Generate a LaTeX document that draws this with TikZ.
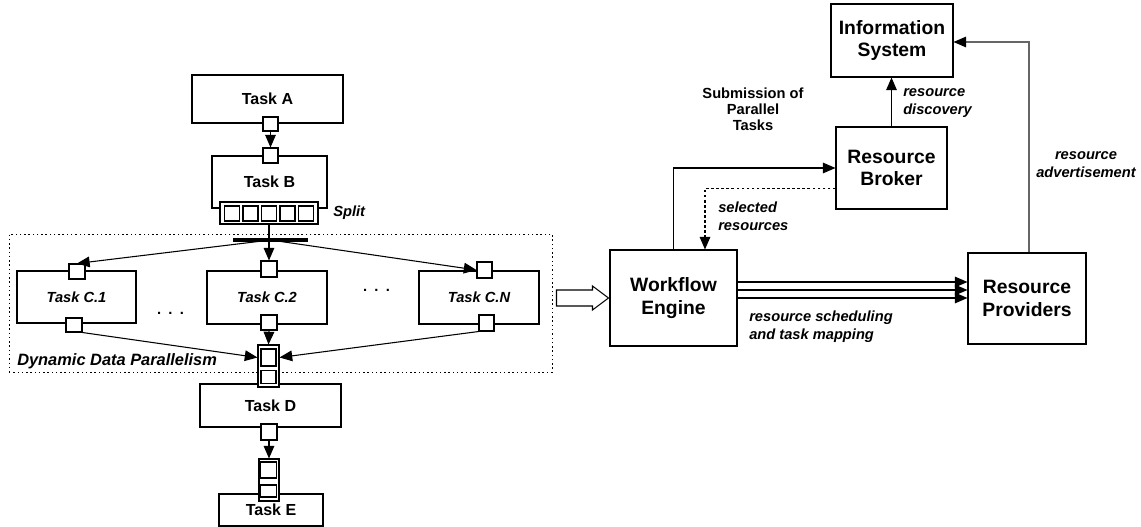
\documentclass[tikz,border=0pt]{standalone}
\usepackage{fontspec}
\setmainfont{Liberation Sans}
\usetikzlibrary{arrows.meta,calc}
\begin{document}
\begin{tikzpicture}[x=0.75pt,y=-0.75pt,
  ln/.style={line width=0.8pt},
  sz/.style 2 args={minimum width=#1*0.75pt, minimum height=#2*0.75pt},
  box/.style={draw, ln, inner sep=0pt, fill=white},
  arr/.style={ln, -{Triangle[length=9.5pt,width=8pt,color=black]}},
  bigtxt/.style={font=\fontsize{14.5}{16.9}\selectfont\bfseries, align=center},
  tasktxt/.style={font=\fontsize{12}{14}\selectfont\bfseries},
  ctxt/.style={font=\fontsize{11}{13}\selectfont\bfseries\itshape},
  lbl/.style={font=\fontsize{11}{13.5}\selectfont\bfseries\itshape, inner sep=0pt},
  dots/.style={font=\fontsize{11}{13}\selectfont\bfseries, inner sep=0pt},
  dotted frame/.style={draw, line width=0.7pt, dash pattern=on 1.1pt off 2.1pt, inner sep=0pt},
]
\useasboundingbox (0,0) rectangle (1141,527);

% group frame
\node[dotted frame, sz={543}{138}] (grp) at (280.5,303) {};

% Task A and B
\node[box, sz={151}{48}, tasktxt] (A) at (267.5,99) {Task A};
\node[box, sz={115}{52}, tasktxt] (B) at (269.5,182) {Task B};
\node[box, sz={15}{14}] (Ao) at (270.5,124) {};
\node[box, sz={15}{15}] (Bi) at (270.5,155.5) {};
\draw[arr] (Ao.south) -- (Bi.north);

% split
\node[box, sz={98}{22}] (split) at (269,213) {};
\foreach \i/\xx in {1/232,2/250.5,3/269,4/287.5,5/306}
  \node[box, sz={15}{15}] (s\i) at (\xx,213.5) {};
\node[lbl, anchor=west] (splitlbl) at (333,213) {Split};

% C tasks
\node[box, sz={119}{52}, ctxt] (C1) at (76.5,297) {Task C.1};
\node[box, sz={120}{53}, ctxt] (C2) at (267,297.5) {Task C.2};
\node[box, sz={120}{53}, ctxt] (CN) at (479,297.5) {Task C.N};
\node[box, sz={16}{15}] (C1i) at (77,271.5) {};
\node[box, sz={16}{14}] (C1o) at (74,325) {};
\node[box, sz={16}{16}] (C2i) at (269,269) {};
\node[box, sz={16}{15}] (C2o) at (269,322.5) {};
\node[box, sz={15}{16}] (CNi) at (484.5,270) {};
\node[box, sz={15}{16}] (CNo) at (486.5,323) {};
\node[dots] (d1) at (170.5,313) {.\hspace{5.5pt}.\hspace{5.5pt}.};
\node[dots] (d2) at (376.5,290) {.\hspace{5.5pt}.\hspace{5.5pt}.};

% bar and fan-out
\node[fill, inner sep=0pt, sz={75}{3.5}] (bar) at (270.5,240) {};
\draw[ln] (split.south) -- (split.south |- bar.north);
\draw[arr] (C2i.north |- bar.south) -- (C2i.north);
\draw[arr] (bar.center) -- (C1i.north);
\draw[arr] (bar.center) -- (CNi.west);

% Task D, E
\node[box, sz={141}{43}, tasktxt] (D) at (270.5,405.5) {Task D};
\node[box, sz={104}{32}, tasktxt] (E) at (271,510) {Task E};

% merge stack
\node[box, sz={21}{42}] (M) at (268.5,366) {};
\node[box, sz={15}{17}] (M1) at (268.5,357.5) {};
\node[box, sz={15}{13}] (M2) at (268.5,377) {};
\draw[arr] (C2o.south) -- (M.north);
\draw[arr] (C1o.south east) -- (M.west |- M1.center);
\draw[arr] (CNo.south west) -- (M.east |- M1.center);

\node[box, sz={16}{16}] (Do) at (269,432) {};
\node[box, sz={20}{42}] (Es) at (269,480) {};
\node[box, sz={16}{16}] (Es1) at (268.5,470) {};
\node[box, sz={16}{12}] (Es2) at (268.5,491) {};
\draw[arr] (Do.south) -- (Es.north);

\node[lbl, anchor=west, font=\fontsize{12.3}{14}\selectfont\bfseries\itshape] (ddp) at (17,361) {Dynamic Data Parallelism};

% right side
\node[box, sz={122}{73}, bigtxt] (IS) at (892,40.5) {Information\\System};
\node[box, sz={111}{82}, bigtxt] (RB) at (891.5,168) {Resource\\Broker};
\node[box, sz={127}{96}, bigtxt] (WE) at (673.5,298) {Workflow\\Engine};
\node[box, sz={118}{91}, bigtxt] (RP) at (1027,298.5) {Resource\\Providers};

% hollow arrow into workflow engine
\draw[ln, fill=white] ($(WE.west)+(-1,0)$) -- ++(-16,-12) -- ++(0,4) -- ++(-36,0)
  -- ++(0,16) -- ++(36,0) -- ++(0,4) -- cycle;

\draw[arr] (RB.north) -- (RB.north |- IS.south);
\draw[arr] (WE.north) |- (RB.west);
\draw[arr, dash pattern=on 2pt off 1.8pt] ($(RB.west)+(0,20.5)$) -| ($(WE.north)+(31.5,0)$);
\foreach \dy in {-16,-8,0}
  \draw[arr] ($(WE.east)+(0,\dy)$) coordinate (t) -- (t -| RP.west);
\draw[arr, draw=gray!80!black] ($(RP.north)+(2,0)$) |- ($(IS.east)+(0,1.5)$);

% labels
\node[lbl, align=left, anchor=west] (rd) at (903,103) {resource\\discovery};
\node[font=\fontsize{11}{12}\selectfont\bfseries, align=center, inner sep=0pt] (sub) at (753,109) {Submission of\\Parallel\\Tasks};
\node[lbl, align=left, anchor=west] (sel) at (718,216) {selected\\resources};
\node[lbl, align=left, anchor=west] (rs) at (749,327) {resource scheduling\\and task mapping};
\node[lbl, align=center] (ra) at (1086,164.5) {resource\\advertisement};
\end{tikzpicture}
\end{document}
